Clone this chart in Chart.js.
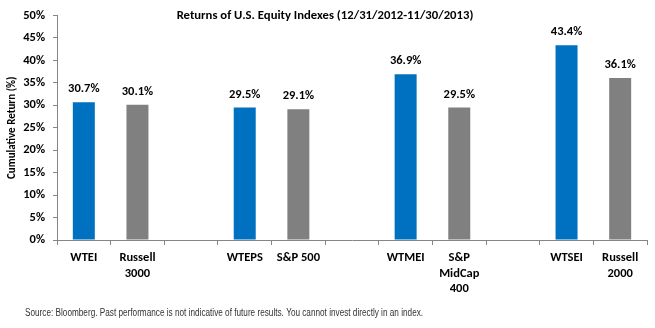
<!DOCTYPE html>
<html>
<head>
<meta charset="utf-8">
<script src="https://cdn.jsdelivr.net/npm/chart.js@4.4.0/dist/chart.umd.min.js"></script>
<style>
  html, body { margin: 0; padding: 0; background: #fff; }
  #wrap { width: 655px; height: 328px; position: relative; }
</style>
</head>
<body>
<div id="wrap"><canvas id="chart"></canvas></div>
<script>
// categories (blank slots are the gaps between pairs)
const categories = [
    'WTEI', ['Russell', '3000'], '',
    'WTEPS', 'S&P 500', '',
    'WTMEI', ['S&P', 'MidCap', '400'], '',
    'WTSEI', ['Russell', '2000']
];
const returns = [30.7, 30.1, null, 29.5, 29.1, null, 36.9, 29.5, null, 43.4, 36.1];
const barColors = ['#0070C0', '#808080', null, '#0070C0', '#808080', null, '#0070C0', '#808080', null, '#0070C0', '#808080'];
const yTicks = [0, 5, 10, 15, 20, 25, 30, 35, 40, 45, 50];

const chartTitle = 'Returns of U.S. Equity Indexes (12/31/2012-11/30/2013)';
const sourceNote = 'Source: Bloomberg. Past performance is not indicative of future results. You cannot invest directly in an index.';

const fontFamily = "Carlito, Lato, 'Open Sans', sans-serif";

const labelsPlugin = {
    id: 'labelsPlugin',
    afterDatasetsDraw(chart) {
        const ctx = chart.ctx;
        const meta = chart.getDatasetMeta(0);
        ctx.save();
        ctx.font = 'bold 12.5px ' + fontFamily;
        ctx.fillStyle = '#000';
        ctx.textAlign = 'center';
        ctx.textBaseline = 'middle';
        meta.data.forEach((bar, i) => {
            if (returns[i] == null) return;
            ctx.fillText(returns[i].toFixed(1) + '%', bar.x, bar.y - 13);
        });
        ctx.restore();
    },
    afterDraw(chart) {
        const ctx = chart.ctx;
        ctx.save();
        ctx.font = 'bold 12.7px ' + fontFamily;
        ctx.fillStyle = '#000';
        ctx.textAlign = 'center';
        ctx.textBaseline = 'middle';
        ctx.fillText(chartTitle, 325, 16);
        // source line is a condensed sans in the original
        ctx.font = "10px 'Liberation Sans', Arial, sans-serif";
        ctx.fillStyle = '#333';
        ctx.textAlign = 'left';
        ctx.translate(25, 313);
        ctx.scale(0.82, 1);
        ctx.fillText(sourceNote, 0, 0);
        ctx.restore();
    }
};

const ctx = document.getElementById('chart').getContext('2d');
const chart = new Chart(ctx, {
    type: 'bar',
    data: {
        labels: categories,
        datasets: [{
            data: returns,
            backgroundColor: barColors,
            barPercentage: 0.82,
            categoryPercentage: 0.5
        }]
    },
    options: {
        responsive: true,
        maintainAspectRatio: false,
        animation: false,
        layout: {
            padding: { top: 11, right: 8, left: 0, bottom: 0 }
        },
        plugins: {
            legend: { display: false },
            tooltip: { enabled: false }
        },
        scales: {
            x: {
                grid: {
                    drawOnChartArea: false,
                    drawTicks: true,
                    tickLength: 5,
                    color: '#868686'
                },
                border: { color: '#868686' },
                ticks: {
                    color: '#000',
                    maxRotation: 0,
                    autoSkip: false,
                    padding: 5,
                    font: { family: fontFamily, size: 12.5, weight: 'bold', lineHeight: 1.25 }
                },
                afterFit(scale) {
                    scale.height = 88;
                }
            },
            y: {
                min: 0,
                max: 50,
                afterBuildTicks(scale) {
                    scale.ticks = yTicks.map(v => ({ value: v }));
                },
                grid: {
                    drawOnChartArea: false,
                    drawTicks: true,
                    tickLength: 4,
                    color: '#868686'
                },
                border: { color: '#868686' },
                ticks: {
                    color: '#000',
                    padding: 8,
                    font: { family: fontFamily, size: 12.5, weight: 'bold' },
                    callback: (v) => v + '%'
                },
                title: {
                    display: true,
                    text: 'Cumulative Return (%)',
                    color: '#000',
                    padding: { top: 6, bottom: 0 },
                    font: { family: fontFamily, size: 11, weight: 'bold' }
                },
                afterFit(scale) {
                    scale.width = 57;
                }
            }
        }
    },
    plugins: [labelsPlugin]
});
</script>
</body>
</html>
